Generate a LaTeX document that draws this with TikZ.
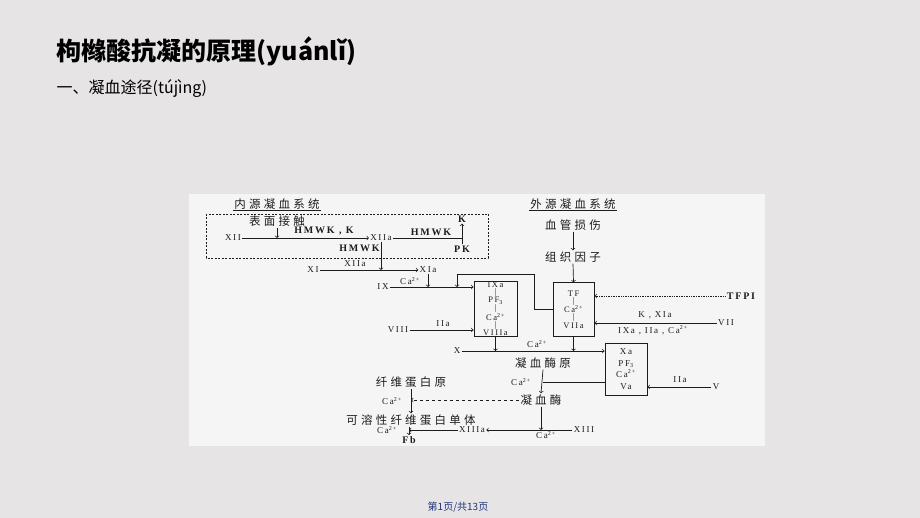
\documentclass[tikz,border=0pt]{standalone}
\usepackage{fontspec}
\usepackage{tikz}
\setmainfont{Liberation Serif}
\newfontfamily\cjk{Noto Sans CJK SC}
\newfontfamily\scancjk{Noto Sans CJK SC}[LetterSpace=28]
\newfontfamily\scanrm{Liberation Serif}[LetterSpace=18]
\definecolor{slidebg}{RGB}{230,228,228}
\definecolor{scanbg}{RGB}{245,245,245}
\definecolor{ink}{RGB}{28,28,28}
\definecolor{pagenum}{RGB}{32,52,125}

\begin{document}
\begin{tikzpicture}[x = 1pt, y = -1pt, color = ink, line width = 0.7pt,
  zh/.style = {font = \scancjk\fontsize{11.5}{11.5}\selectfont, inner sep = 1pt},
  lt/.style = {font = \scanrm\fontsize{9}{9}\selectfont, inner sep = 1pt},
  ltb/.style = {font = \scanrm\bfseries\fontsize{10}{10}\selectfont, inner sep = 1pt},
  factorbox/.style = {draw, line width = 1pt, align = center, inner sep = 0pt,
    font = \scanrm\fontsize{8.5}{7}\selectfont}]
\fill [slidebg] (0,0) rectangle (920,518);
\useasboundingbox (0,0) rectangle (920,518);
\node [anchor = west, text = black, font = \cjk\bfseries\fontsize{25}{25}\selectfont] (title) at (53,51) {枸橼酸抗凝的原理(yuánlǐ)};
\node [anchor = west, text = black, font = \cjk\fontsize{16}{16}\selectfont] (subtitle) at (53,89) {一、凝血途径(tújìng)};
\node [text = pagenum, font = \cjk\fontsize{10}{10}\selectfont] (pageno) at (458,507) {第1页/共13页};
\fill [scanbg] (189,194) rectangle (765,446);

\node [zh] (ititle) at (277,204) {内源凝血系统};
\draw (ititle.south west) -- (ititle.south east);
\node [zh] (etitle) at (573,204) {外源凝血系统};
\draw (etitle.south west) -- (etitle.south east);
\draw [dash pattern = on 2pt off 1.5pt, line width = 0.6pt] (206,214) rectangle (488,258);

\node [zh] (contact) at (277,221) {表面接触};
\node [lt] (xii) at (233,238) {XII};
\node [lt] (xiia) at (381,238) {XIIa};
\node [ltb] (hk) at (324,231) {HMWK , K};
\node [ltb] (hmwka) at (431,232) {HMWK};
\node [ltb, anchor = east] (hmwkb) at (381,248) {HMWK};
\node [ltb] (pk) at (462,249) {PK};
\node [ltb] (k) at (462,219) {K};
\draw [->] (contact.south) -- (contact.south |- xii);
\draw [->] (xii.east) -- (xiia.west);
\draw (xiia.east) -- (xiia.east -| k);
\draw [->] (pk.north) -- (k.south);

\node [lt] (xi) at (313,270) {XI};
\node [lt] (xia) at (428,270) {XIa};
\node [lt] (xiilbl) at (355,264) {XIIa};
\draw [->] (xiia.south) -- (xiia.south |- xi);
\draw [->] (xi.east) -- (xia.west);

\node [lt] (ix) at (383,287) {IX};
\node [lt] (caa) at (410,281) {Ca\textsuperscript{2+}};
\coordinate (ixjoin) at (457,287);
\draw [->] (xia.south) -- (xia.south |- ix);
\node [factorbox, minimum width = 43, minimum height = 52] (ixbox) at (495.5,309) {IXa\\|\\PF\textsubscript{3}\\|\\Ca\textsuperscript{2+}\\|\\VIIIa};
\draw [->] (ix.east) -- (ix.east -| ixbox.west);
\node [lt] (viii) at (398,330) {VIII};
\node [lt] (iia) at (443,324) {IIa};
\draw [->] (viii.east) -- (viii.east -| ixbox.west);

\node [zh] (injury) at (573,225) {血管损伤};
\node [zh] (tf) at (573,257) {组织因子};
\node [factorbox, minimum width = 41, minimum height = 53] (tfbox) at (573.5,309.5) {TF\\|\\Ca\textsuperscript{2+}\\|\\VIIa};
\draw [->] (injury.south) -- (tf.north);
\draw [->] (tf.south) -- (tfbox.north);
\draw [->] (tfbox.west) -| (534,274) -| (ixjoin);
\node [ltb] (tfpi) at (741,296) {TFPI};
\draw [->, densely dotted] (tfpi.west) -- (tfpi.west -| tfbox.east);
\node [lt] (vii) at (726,323) {VII};
\node [lt] (viilblup) at (655,315) {K , XIa};
\node [lt] (viilbldn) at (653,330) {IXa , IIa , Ca\textsuperscript{2+}};
\draw [->] (vii.west) -- (vii.west -| tfbox.east);

\node [lt] (xf) at (457,351) {X};
\node [lt] (cab) at (537,344) {Ca\textsuperscript{2+}};
\node [factorbox, minimum width = 42, minimum height = 52, font = \scanrm\fontsize{9}{11.5}\selectfont] (xabox) at (626,369) {Xa\\PF\textsubscript{3}\\Ca\textsuperscript{2+}\\Va};
\draw [->] (ixbox.south) -- (ixbox.south |- xf);
\draw [->] (tfbox.south) -- (tfbox.south |- xf);
\draw [->] (xf.east) -- (xf.east -| xabox.west);
\node [lt] (vf) at (716,387) {V};
\node [lt] (iib) at (680,380) {IIa};
\draw [->] (vf.west) -- (vf.west -| xabox.east);

\node [zh] (proth) at (543,363) {凝血酶原};
\node [lt] (cac) at (521,382) {Ca\textsuperscript{2+}};
\node [zh] (thromb) at (541,400) {凝血酶};
\draw (xabox.west |- cac) -- (proth.south |- cac);
\draw [->] (proth.south) -- (thromb.north);

\node [zh] (fibgen) at (411,382) {纤维蛋白原};
\node [lt] (cad) at (392,401) {Ca\textsuperscript{2+}};
\node [zh] (mono) at (411,420) {可溶性纤维蛋白单体};
\node [lt] (cae) at (387,430) {Ca\textsuperscript{2+}};
\node [ltb] (fb) at (409,440) {Fb};
\draw [->] (fibgen.south) -- (mono.north);
\draw [->, dashed] (thromb.west) -- (thromb.west -| fibgen);
\draw [->] (mono.south -| fb) -- (fb.north);

\node [lt] (xiii) at (584,430) {XIII};
\node [lt] (xiiia) at (472,430) {XIIIa};
\node [lt] (caf) at (546,435) {Ca\textsuperscript{2+}};
\draw [->] (thromb.south) -- (thromb.south |- xiii);
\draw [->] (xiii.west) -- (xiiia.east);
\draw [->] (xiiia.west) -- (xiiia.west -| fb);
\end{tikzpicture}
\end{document}
